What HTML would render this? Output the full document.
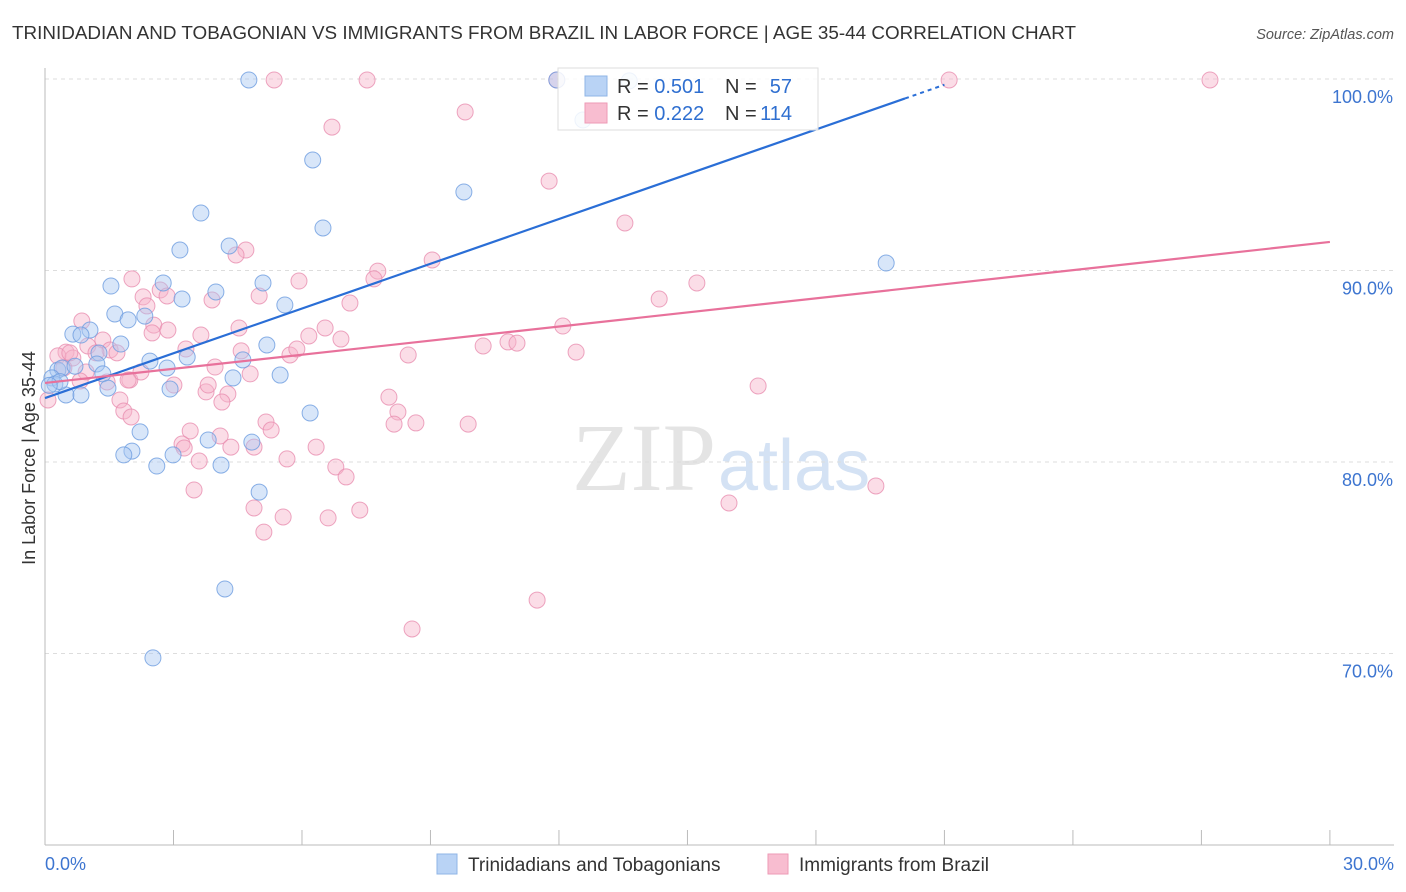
<!DOCTYPE html>
<html><head><meta charset="utf-8"><style>
body{margin:0;background:#fff;font-family:"Liberation Sans",sans-serif;}
#wrap{position:relative;width:1406px;height:892px;overflow:hidden;}
</style></head><body>
<div id="wrap">
<svg id="svg" width="1406" height="892" xmlns="http://www.w3.org/2000/svg">
<text x="12" y="39" font-size="18" fill="#333" textLength="1064" lengthAdjust="spacingAndGlyphs">TRINIDADIAN AND TOBAGONIAN VS IMMIGRANTS FROM BRAZIL IN LABOR FORCE | AGE 35-44 CORRELATION CHART</text>
<text x="1394" y="39" font-size="14.5" fill="#555" font-style="italic" text-anchor="end">Source: ZipAtlas.com</text>
<text x="716" y="490" font-size="96" fill="#e4e4e4" font-family="Liberation Serif,serif" text-anchor="end">ZIP</text>
<text x="718" y="490" font-size="72" fill="#d4e2f4">atlas</text>
<g id="grid"></g><g id="axes"></g><g id="pts"></g><g id="lines"></g>
<g>
<rect x="558" y="68" width="260" height="62" fill="#fff" fill-opacity="0.85" stroke="#ddd"/>
<rect x="585" y="76" width="22" height="20" fill="#b9d3f5" stroke="#8fb4e6"/>
<rect x="585" y="103" width="22" height="20" fill="#f8bdd0" stroke="#ee9ab6"/>
<text x="617" y="93" font-size="20" fill="#333">R = <tspan fill="#2f6fd0">0.501</tspan></text>
<text x="725" y="93" font-size="20" fill="#333">N =</text>
<text x="792" y="93" font-size="20" fill="#2f6fd0" text-anchor="end">57</text>
<text x="617" y="120" font-size="20" fill="#333">R = <tspan fill="#2f6fd0">0.222</tspan></text>
<text x="725" y="120" font-size="20" fill="#333">N =</text>
<text x="792" y="120" font-size="20" fill="#2f6fd0" text-anchor="end">114</text>
</g>
<text x="35" y="458" font-size="18" fill="#333" text-anchor="middle" transform="rotate(-90 35 458)">In Labor Force | Age 35-44</text>
<g>
<rect x="437" y="854" width="20" height="20" fill="#b9d3f5" stroke="#8fb4e6"/>
<text x="468" y="871" font-size="19" fill="#333">Trinidadians and Tobagonians</text>
<rect x="768" y="854" width="20" height="20" fill="#f8bdd0" stroke="#ee9ab6"/>
<text x="799" y="871" font-size="19" fill="#333">Immigrants from Brazil</text>
</g>
</svg>
</div>
<script>
const yTicks=[100,90,80,70];
const yTickLabels=["100.0%","90.0%","80.0%","70.0%"];
const xTickVals=[0,3,6,9,12,15,18,21,24,27,30];
const blueX=[4.76,6.25,6.49,3.64,3.15,4.30,9.78,19.64,5.09,3.99,3.20,2.76,1.54,1.63,1.94,2.33,5.60,1.05,0.65,0.84,1.77,1.26,5.18,3.32,2.45,2.85,4.62,1.21,0.30,0.40,0.16,0.23,1.35,1.47,0.49,0.84,4.39,5.49,2.92,6.19,2.22,3.81,4.83,2.03,1.84,2.99,2.61,4.11,5.00,4.20,2.52,12.56,13.64,11.95,0.35,0.10,0.70];
const blueY=[99.95,95.77,92.22,93.0,91.07,91.28,94.10,90.39,89.35,88.88,88.51,89.35,89.19,87.73,87.42,87.62,88.20,86.89,86.68,86.63,86.16,85.69,86.11,85.48,85.27,84.91,85.33,85.12,84.80,84.91,84.39,84.07,84.60,83.86,83.50,83.50,84.39,84.54,83.81,82.56,81.57,81.15,81.04,80.57,80.37,80.37,79.79,79.84,78.43,73.37,69.77,97.86,99.90,99.95,84.2,84.0,85.0];
const pinkX=[5.35,7.52,11.95,21.11,27.20,9.81,6.70,11.77,13.54,4.69,4.46,9.04,7.77,7.68,5.93,15.22,14.34,7.12,5.00,2.03,2.69,2.85,3.90,2.29,2.38,0.86,2.54,2.50,2.87,4.53,6.54,3.64,6.16,6.91,12.09,10.81,11.02,10.23,12.40,8.48,5.72,5.88,4.58,3.29,1.35,1.00,0.49,0.65,0.30,1.52,0.44,0.96,1.45,1.98,2.24,0.82,0.07,3.01,3.97,3.76,4.27,3.81,4.79,8.03,4.13,1.75,1.84,2.01,8.24,8.66,8.15,9.88,16.65,5.16,5.28,3.39,3.20,4.09,3.25,4.34,6.33,4.88,5.65,3.60,6.79,7.03,3.48,5.56,4.88,5.11,6.61,7.35,15.97,19.40,11.49,8.57,1.94,0.58,1.19,1.68];
const pinkY=[99.95,99.95,99.95,99.95,99.95,98.28,97.49,94.67,92.48,91.07,90.81,90.55,89.97,89.56,89.45,89.35,88.51,88.30,88.67,89.56,88.98,88.67,88.46,88.62,88.15,87.36,87.15,86.74,86.89,87.00,87.00,86.63,86.58,86.42,87.10,86.27,86.21,86.06,85.74,85.59,85.59,85.90,85.80,85.90,86.37,86.06,85.74,85.43,85.54,85.85,84.91,84.70,84.18,84.28,84.70,84.23,83.24,84.02,84.96,83.66,83.55,84.02,84.60,83.39,83.13,83.24,82.66,82.35,82.61,82.04,81.98,81.98,83.97,82.09,81.67,81.62,80.94,81.36,80.73,80.78,80.78,80.78,80.16,80.05,79.74,79.22,78.54,77.13,77.60,76.34,77.08,77.49,77.86,78.75,72.79,71.28,84.28,85.7,85.7,85.7];
const blueLine=[0,83.34,21.0,99.7,20.08];
const pinkLine=[0,84.13,30,91.49];
const NS="http://www.w3.org/2000/svg";
function sx(v){return 45+v*42.83;}
function sy(v){return 79+(100-v)*19.15;}
function mk(tag,attrs,parent){const e=document.createElementNS(NS,tag);for(const k in attrs)e.setAttribute(k,attrs[k]);parent.appendChild(e);return e;}
const grid=document.getElementById('grid'),axes=document.getElementById('axes'),pts=document.getElementById('pts'),lines=document.getElementById('lines');
yTicks.forEach((t,i)=>{
 const l=mk('line',{x1:45,x2:1394,y1:sy(t),y2:sy(t),stroke:'#ddd','stroke-dasharray':'4,4'},grid);
 
 
 const tx=mk('text',{x:1393,y:sy(t)+24,'font-size':18,fill:'#3d75d0','text-anchor':'end'},axes);
 tx.textContent=yTickLabels[i];
 
 
});
const ax=mk('line',{x1:45,x2:1394,y1:845,y2:845,stroke:'#bbb'},axes);


const ay=mk('line',{x1:45,x2:45,y1:68,y2:845,stroke:'#bbb'},axes);


xTickVals.forEach(v=>{
 const t=mk('line',{x1:sx(v),x2:sx(v),y1:830,y2:845,stroke:'#bbb'},axes);
 
 
});
const xl0=mk('text',{x:45,y:870,'font-size':18,fill:'#3d75d0'},axes);xl0.textContent='0.0%';


const xl1=mk('text',{x:1394,y:870,'font-size':18,fill:'#3d75d0','text-anchor':'end'},axes);xl1.textContent='30.0%';


function drawPts(X,Y,fill,stroke,name){X.forEach((x,i)=>{
 const c=mk('circle',{cx:sx(x),cy:sy(Y[i]),r:8,fill:fill,'fill-opacity':0.45,stroke:stroke,'stroke-opacity':0.8,'stroke-width':1},pts);
 
 
});}
drawPts(pinkX,pinkY,'#f6b3ca','#e98fb0','point-brazil');
drawPts(blueX,blueY,'#a9c8f2','#6d9ce0','point-trinidad');
const slope=(blueLine[3]-blueLine[1])/(blueLine[2]-blueLine[0]);
const ySolid=blueLine[1]+slope*(blueLine[4]-blueLine[0]);
const bl=mk('line',{x1:sx(blueLine[0]),y1:sy(blueLine[1]),x2:sx(blueLine[4]),y2:sy(ySolid),stroke:'#2a6ed6','stroke-width':2.2},lines);


const bd=mk('line',{x1:sx(blueLine[4]),y1:sy(ySolid),x2:sx(blueLine[2]),y2:sy(blueLine[3]),stroke:'#2a6ed6','stroke-width':2,'stroke-dasharray':'4,4'},lines);


const pl=mk('line',{x1:sx(pinkLine[0]),y1:sy(pinkLine[1]),x2:sx(pinkLine[2]),y2:sy(pinkLine[3]),stroke:'#e8719b','stroke-width':2.2},lines);


</script>
</body></html>
